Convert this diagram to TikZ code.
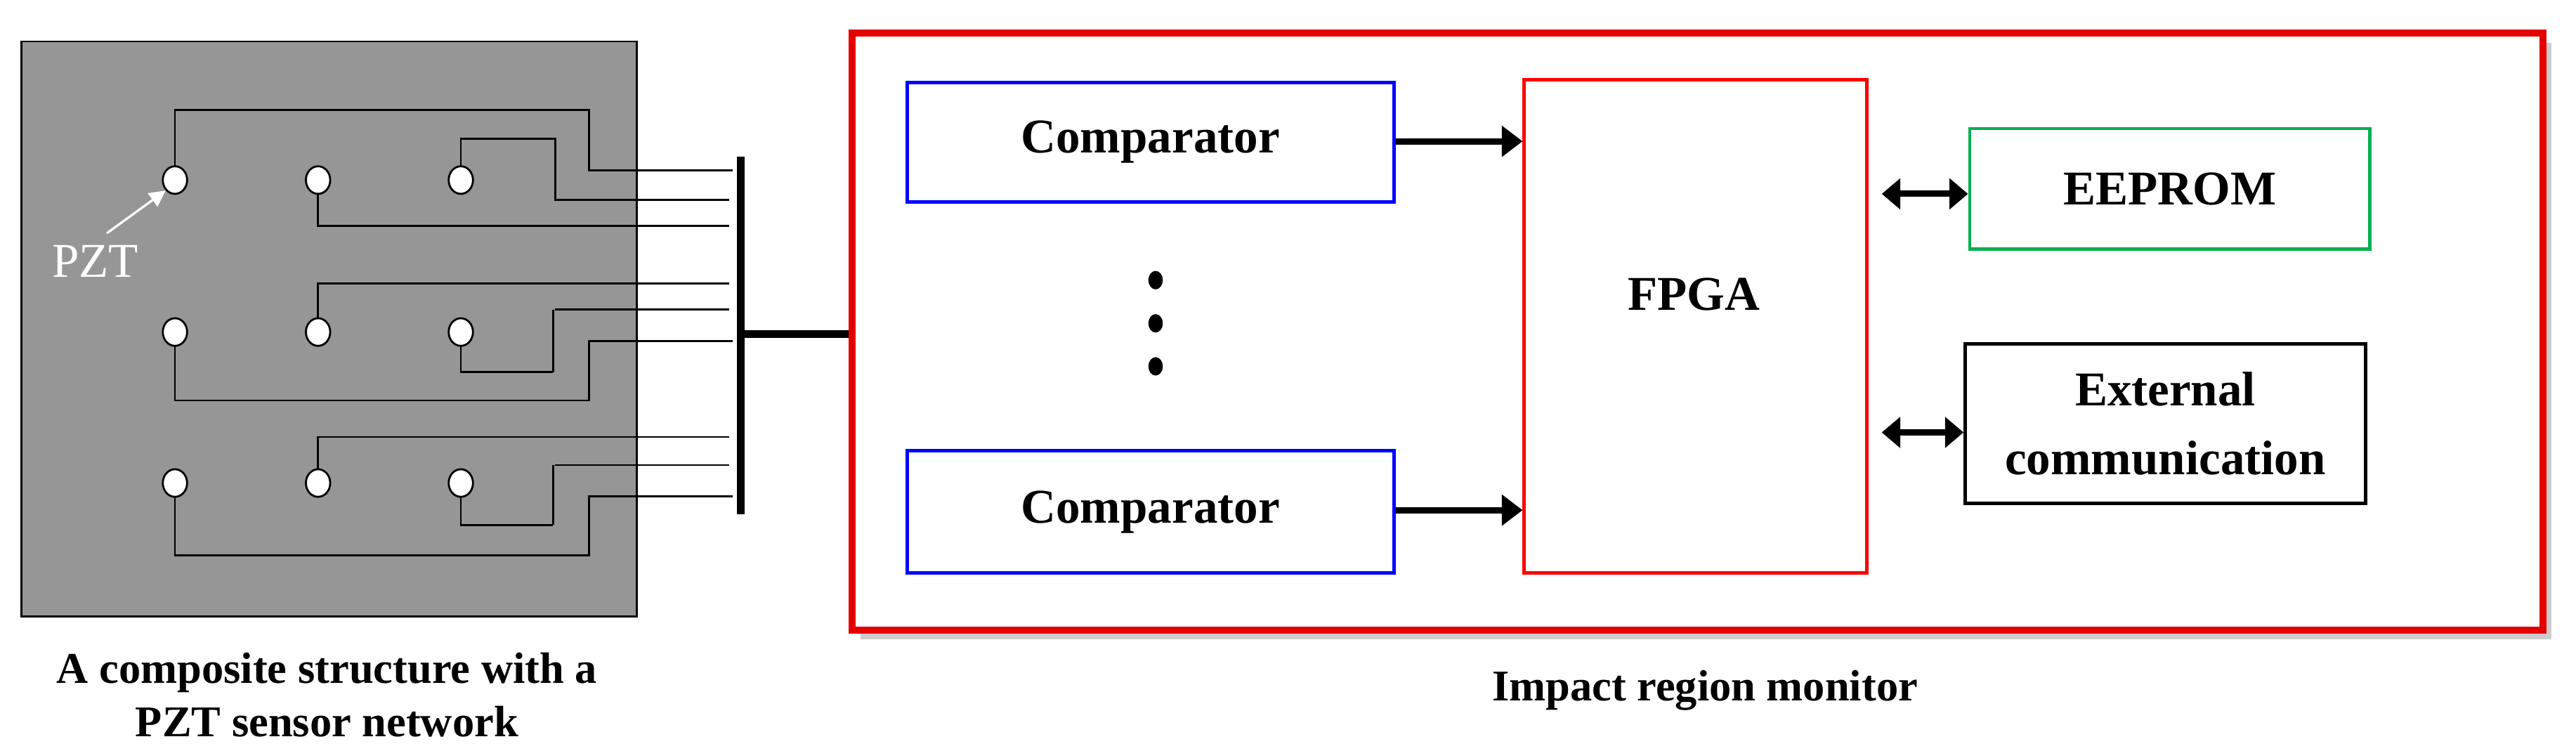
\documentclass[tikz,border=0pt]{standalone}
\usepackage{fontspec}
\setmainfont{Liberation Serif}
\usetikzlibrary{arrows.meta,shapes.geometric}
\begin{document}
\begin{tikzpicture}[x=0.05cm,y=-0.05cm,
  wire/.style={line width=1.7pt},
  pzt/.style={ellipse,draw,line width=1.7pt,fill=white,minimum width=0.74cm,minimum height=0.84cm,inner sep=0pt},
  blk/.style={draw,line width=3pt,fill=white,font=\fontsize{42}{50}\selectfont\bfseries,align=center,inner sep=0pt},
  arr/.style={line width=5.5pt,-{Triangle[length=18pt,width=26pt]}},
  darr/.style={line width=5.5pt,{Triangle[length=16pt,width=26pt]}-{Triangle[length=16pt,width=26pt]}},
  captxt/.style={font=\fontsize{38}{46}\selectfont\bfseries,align=center}]
\useasboundingbox (0,0) rectangle (1568,457);
% panel
\node[draw,line width=1.5pt,fill=black!41,minimum width=374.4*0.05cm,minimum height=350*0.05cm,inner sep=0pt,anchor=north west] (panel) at (12.6,24.7) {};
% sensors
\foreach \r/\y in {1/109.6,2/202.1,3/294}{
  \foreach \c/\x in {1/106.5,2/193.6,3/280.5}{
    \coordinate (c\r\c) at (\x,\y);
  }
}
% wires
\draw[wire] (c11) -- (106.5,66.9) -- (358.6,66.9) -- (358.6,103.6) -- (445.8,103.6);
\draw[wire] (c13) -- (280.5,84.3) -- (338,84.3) -- (338,121.8) -- (444,121.8);
\draw[wire] (c12) -- (193.6,137.6) -- (444,137.6);
\draw[wire] (c22) -- (193.6,172.7) -- (444,172.7);
\draw[wire] (338,188.5) -- (444,188.5);
\draw[wire] (336.7,188.5) -- (336.7,226.5);
\draw[wire] (c23) -- (280.5,226.5) -- (336.7,226.5);
\draw[wire] (c21) -- (106.5,243.7) -- (358.6,243.7) -- (358.6,207.5) -- (445.8,207.5);
\draw[wire] (c32) -- (193.6,266) -- (444,266);
\draw[wire] (338,283.1) -- (444,283.1);
\draw[wire] (336.7,283.1) -- (336.7,319.6);
\draw[wire] (c33) -- (280.5,319.6) -- (336.7,319.6);
\draw[wire] (c31) -- (106.5,338.1) -- (358.6,338.1) -- (358.6,302.2) -- (445.8,302.2);
\foreach \r in {1,2,3}{\foreach \c in {1,2,3}{\node[pzt] (s\r\c) at (c\r\c) {};}}
% PZT label
\node[text=white,font=\fontsize{42}{50}\selectfont] (pztl) at (58,159) {PZT};
\draw[white,line width=2pt,-{Triangle[length=14pt,width=14pt]}] (65,142) -- (s11.south west);
% bus
\coordinate (bt) at (450.8,95.4);
\coordinate (bb) at (450.8,313);
\draw[line width=7pt] (bt) -- (bb);
\coordinate (bm) at (450.8,203.4);
% outer monitor box with shadow
\fill[black!20] (524,26) rectangle (1553,389);
\node[draw=red!90!black,line width=6pt,fill=white,minimum width=1029.3*0.05cm,minimum height=363.3*0.05cm,inner sep=0pt,anchor=north west] (mon) at (516.4,18) {};
\draw[line width=7pt] (bm) -- (mon.west|-bm);
% blocks
\node[blk,draw=blue,minimum width=296.4*0.05cm,minimum height=72.8*0.05cm,anchor=north west] (cmp1) at (551,49) {Comparator};
\node[blk,draw=blue,minimum width=296.4*0.05cm,minimum height=74.4*0.05cm,anchor=north west] (cmp2) at (551,273.4) {Comparator};
\node[blk,draw=red,minimum width=208.5*0.05cm,minimum height=300.3*0.05cm,anchor=north west] (fpga) at (926.8,47.5) {};
\node[font=\fontsize{42}{50}\selectfont\bfseries] (fpgat) at (1031,179) {FPGA};
\node[blk,draw={rgb,255:red,0;green,176;blue,80},minimum width=243.6*0.05cm,minimum height=73.5*0.05cm,anchor=north west] (eep) at (1197.9,77.2) {EEPROM};
\node[blk,draw=black,minimum width=243.6*0.05cm,minimum height=96.8*0.05cm,anchor=north west] (ext) at (1195.2,208.4) {External\\[10pt]communication};
% dots
\foreach \y/\n in {170.5/1,196.8/2,223/3}{\fill (703.4,\y) ellipse (4.4 and 5.6);}
% arrows
\draw[arr] (cmp1.east|-0,86) -- (fpga.west|-0,86);
\draw[arr] (cmp2.east|-0,310.5) -- (fpga.west|-0,310.5);
\draw[darr] (1145.4,118) -- (eep.west|-0,118);
\draw[darr] (1145.4,263.2) -- (ext.west|-0,263.2);
% captions
\node[captxt] (capl) at (199,423) {A composite structure with a\\PZT sensor network};
\node[captxt] (capr) at (1037.8,420) {Impact region monitor};
\end{tikzpicture}
\end{document}
